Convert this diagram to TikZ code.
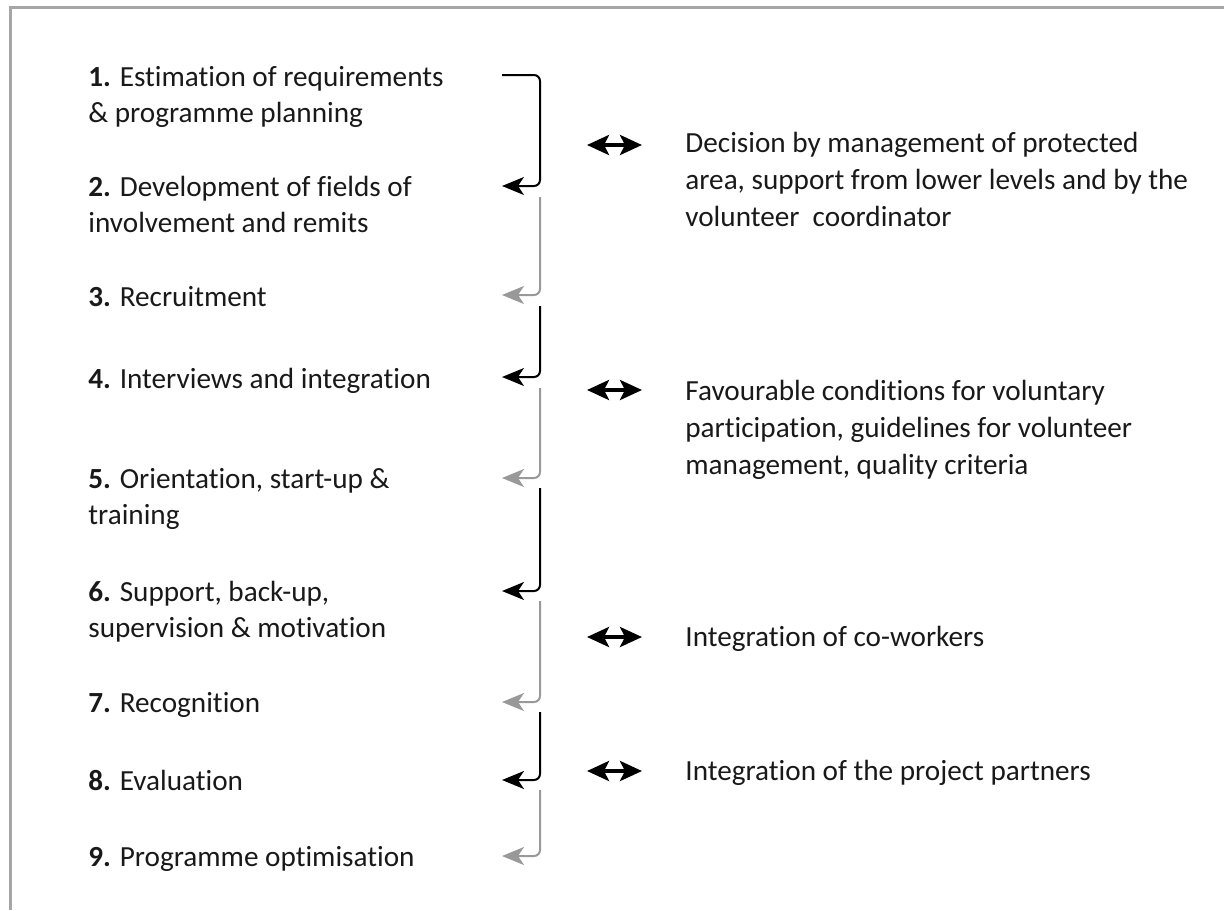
\documentclass[tikz,border=0pt]{standalone}
\usepackage{fontspec}
\setmainfont{Carlito}[Ligatures=NoCommon]
\usetikzlibrary{arrows.meta}

\tikzset{
  steptext/.style={anchor=base west, align=left, inner sep=0pt, font=\fontsize{14.6}{18}\selectfont, text=black!90},
  notetext/.style={anchor=base west, align=left, inner sep=0pt, font=\fontsize{14.6}{18.3}\selectfont, text=black!90},
  darkflow/.style={-{Stealth[length=11pt, width=9pt, inset=3pt]}, line width=1pt, rounded corners=3pt, black},
  lightflow/.style={-{Stealth[length=11pt, width=9pt, inset=3pt]}, line width=1pt, rounded corners=3pt, black!40},
  link/.style={{Stealth[length=11pt, width=10pt, inset=2.5pt]}-{Stealth[length=11pt, width=10pt, inset=2.5pt]}, line width=2pt, black},
}

\begin{document}
\begin{tikzpicture}[x=0.5pt, y=-0.5pt]
	\useasboundingbox (0,0) rectangle (1224,910);
	\draw[line width=1.5pt, black!35] (10,910) -- (10,7) -- (1224,7);

	% steps on the left (anchored at the baseline of their last line)
	\node[steptext] (s1)at(88, 122) {\textbf{1.} Estimation of requirements\\ \& programme planning};
	\node[steptext] (s2)at(88, 232) {\textbf{2.} Development of fields of\\ involvement and remits};
	\node[steptext] (s3)at(88, 306) {\textbf{3.} Recruitment};
	\node[steptext] (s4)at(88, 388) {\textbf{4.} Interviews and integration};
	\node[steptext] (s5)at(88, 524) {\textbf{5.} Orientation, start-up \&\\ training};
	\node[steptext] (s6)at(88, 637) {\textbf{6.} Support, back-up,\\ supervision \& motivation};
	\node[steptext] (s7)at(88, 712) {\textbf{7.} Recognition};
	\node[steptext] (s8)at(88, 790) {\textbf{8.} Evaluation};
	\node[steptext] (s9)at(88, 866) {\textbf{9.} Programme optimisation};

	% notes on the right
	\node[notetext] (n1)at(685, 226) {Decision by management of protected\\ area, support from lower levels and by the\\ volunteer \ coordinator};
	\node[notetext] (n2)at(685, 474) {Favourable conditions for voluntary\\ participation, guidelines for volunteer\\ management, quality criteria};
	\node[notetext] (n3)at(685, 646) {Integration of co-workers};
	\node[notetext] (n4)at(685, 780) {Integration of the project partners};

	% arrow ends next to the steps
	\coordinate (h1)at(502, 75);
	\coordinate (h2)at(502, 186);
	\coordinate (h3)at(502, 295);
	\coordinate (h4)at(502, 377);
	\coordinate (h5)at(502, 478);
	\coordinate (h6)at(502, 591);
	\coordinate (h7)at(502, 702);
	\coordinate (h8)at(502, 780);
	\coordinate (h9)at(502, 856);

	\draw[darkflow] (h1) -- ++(38,0) |- (h2);
	\draw[lightflow] (h2) ++(38,11) |- (h3);
	\draw[darkflow] (h3) ++(38,11) |- (h4);
	\draw[lightflow] (h4) ++(38,11) |- (h5);
	\draw[darkflow] (h5) ++(38,10) |- (h6);
	\draw[lightflow] (h6) ++(38,10) |- (h7);
	\draw[darkflow] (h7) ++(38,10) |- (h8);
	\draw[lightflow] (h8) ++(38,10) |- (h9);

	% double arrows between steps and notes
	\coordinate (l1)at(587, 145); \coordinate (r1)at(642, 145);
	\coordinate (l2)at(587, 390); \coordinate (r2)at(642, 390);
	\coordinate (l3)at(587, 637); \coordinate (r3)at(642, 637);
	\coordinate (l4)at(587, 771); \coordinate (r4)at(642, 771);
	\draw[link] (l1) -- (r1);
	\draw[link] (l2) -- (r2);
	\draw[link] (l3) -- (r3);
	\draw[link] (l4) -- (r4);
\end{tikzpicture}
\end{document}
